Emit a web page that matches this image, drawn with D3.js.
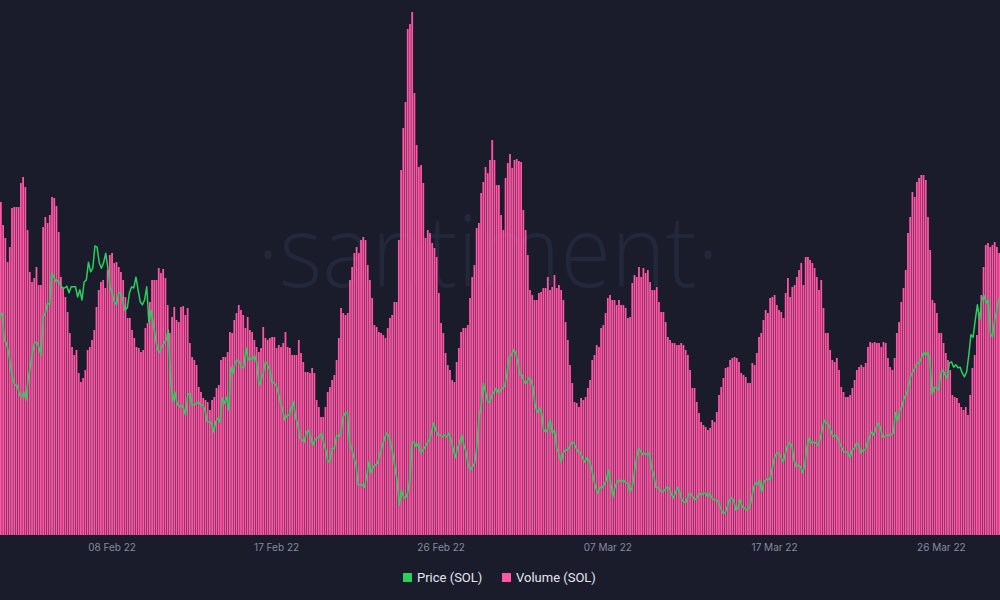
<!DOCTYPE html>
<html>
<head>
<meta charset="utf-8">
<script src="https://cdn.jsdelivr.net/npm/d3@7"></script>
<style>
  html, body { margin: 0; padding: 0; background: #1a1c2c; }
  svg { display: block; }
</style>
</head>
<body>
<svg id="chart" width="1000" height="600"></svg>
<script>
// Volume (SOL, millions) per 3h bar, left to right
const volume = [
  3.33,3.10,2.97,2.73,2.88,3.27,3.28,3.28,3.28,3.52,
  3.58,3.48,3.05,2.63,2.53,2.57,2.68,2.50,2.50,3.08,
  3.18,3.12,3.20,3.38,3.37,3.29,3.03,2.58,2.47,2.38,
  2.23,2.02,1.88,1.80,1.85,1.62,1.53,1.57,1.65,1.85,
  1.88,1.95,2.05,2.28,2.45,2.53,2.55,2.47,2.65,2.80,
  2.82,2.72,2.73,2.68,2.63,2.55,2.38,2.17,2.17,2.05,
  1.97,1.88,1.87,1.83,1.85,2.07,2.12,2.33,2.55,2.55,
  2.55,2.67,2.62,2.66,2.57,2.30,2.02,2.18,2.28,2.15,
  2.13,2.28,2.29,2.20,2.27,1.92,1.78,1.75,1.70,1.48,
  1.43,1.37,1.35,1.33,1.25,1.35,1.38,1.47,1.50,1.75,
  1.78,1.78,1.83,2.03,2.02,2.15,2.22,2.30,2.25,2.20,
  2.07,2.18,2.05,2.03,1.95,1.88,1.83,1.87,2.08,1.97,
  1.95,1.97,1.98,1.98,1.87,1.90,1.88,1.92,2.03,1.88,
  1.87,1.80,1.80,1.80,1.95,1.82,1.73,1.63,1.63,1.62,
  1.67,1.62,1.35,1.28,1.18,1.18,1.28,1.43,1.48,1.55,
  1.60,1.75,1.97,2.27,2.22,2.20,2.22,2.55,2.68,2.82,
  2.88,2.82,2.95,2.98,2.95,2.70,2.55,2.37,2.10,2.08,
  2.03,2.02,2.00,1.97,2.07,2.17,2.20,2.33,2.33,2.95,
  3.65,4.07,4.33,5.06,5.11,5.23,4.42,3.90,3.68,3.70,
  3.52,2.97,3.05,3.02,2.92,2.87,2.78,2.42,2.12,2.02,
  1.82,1.70,1.65,1.55,1.53,1.73,1.87,2.03,2.07,2.07,
  2.10,2.37,2.58,2.70,3.07,3.12,3.42,3.53,3.68,3.62,
  3.75,3.95,3.75,3.50,
  3.50,3.20,3.05,3.57,3.72,3.81,3.67,3.75,3.76,3.74,
  3.73,3.25,3.05,2.80,2.45,2.40,2.35,2.35,2.42,2.43,
  2.47,2.47,2.58,2.45,2.48,2.60,2.47,2.50,2.45,2.35,
  2.13,1.95,1.70,1.52,1.33,1.32,1.28,1.37,1.35,1.38,
  1.47,1.55,1.75,1.80,1.90,1.88,2.07,2.10,2.22,2.37,
  2.40,2.35,2.35,2.30,2.35,2.30,2.30,2.27,2.17,2.18,
  2.52,2.60,2.58,2.68,2.58,2.67,2.62,2.65,2.53,2.45,
  2.45,2.48,2.33,2.23,2.23,2.13,1.98,1.95,1.92,1.92,
  1.90,1.90,1.92,1.90,1.85,1.80,1.65,1.47,1.47,1.33,
  1.22,1.13,1.10,1.08,1.05,1.07,1.15,1.13,1.23,1.40,
  1.48,1.57,1.67,1.68,1.75,1.77,1.78,1.77,1.73,1.62,
  1.60,1.58,1.52,1.52,1.72,1.70,1.82,1.98,2.02,2.15,
  2.25,2.22,2.37,2.38,2.40,2.30,2.25,2.23,2.17,2.42,
  2.57,2.38,2.48,2.50,2.58,2.65,2.72,2.50,2.78,2.78,
  2.75,2.72,2.67,2.58,2.45,2.55,2.27,2.02,2.02,1.85,
  1.75,1.73,1.77,1.65,1.48,1.43,1.38,1.38,1.40,1.47,
  1.55,1.65,1.68,1.70,1.68,1.72,1.88,1.93,1.92,1.93,
  1.92,1.92,1.88,1.93,1.92,1.77,1.68,1.65,1.77,2.02,
  2.13,2.33,2.47,2.65,3.02,3.18,3.43,3.38,3.53,3.57,
  3.60,3.60,3.55,3.18,2.85,2.35,2.32,2.22,2.02,2.02,
  1.92,1.82,1.75,1.65,1.40,1.38,1.37,1.32,1.28,1.25,
  1.28,1.20,1.40,1.67,1.80,2.00,2.22,2.40,2.68,2.90,
  2.92,2.88,2.90,2.93,2.88,2.82
];

// Price (USD) samples, left to right
const price = [
  107.2,107.8,103.3,102.8,101.2,98.8,96.7,95.8,95.8,94.2,
  93.8,94.7,93.3,96.7,98.8,101.2,102.8,103.0,102.2,100.8,
  107.2,107.8,109.5,109.2,114.5,113.8,113.0,113.3,112.5,112.0,
  112.0,112.3,111.2,112.2,112.2,112.2,110.5,111.7,110.0,113.0,
  113.3,116.3,114.7,115.3,119.0,118.8,116.2,115.3,116.2,
  117.8,115.3,112.2,111.2,109.7,109.2,111.2,111.2,109.7,108.3,
  108.7,111.2,112.2,112.0,113.8,111.7,109.7,109.2,110.0,112.2,
  106.3,108.3,106.2,103.8,101.7,101.3,102.2,102.8,103.3,
  105.0,97.2,93.0,94.7,92.8,92.2,92.5,92.0,90.8,
  94.2,94.5,92.5,92.5,92.8,93.0,92.5,92.5,91.7,89.7,
  89.7,89.5,88.0,89.7,90.3,89.7,93.7,92.8,93.8,91.7,
  98.8,97.8,99.7,100.0,99.7,98.7,98.8,102.0,100.0,
  100.3,100.0,100.8,99.5,95.8,96.7,97.8,99.7,99.2,98.3,
  96.3,96.2,95.8,94.5,92.8,91.7,90.0,90.8,90.8,92.0,
  93.0,90.5,89.2,87.0,86.7,86.3,88.0,88.3,87.2,85.8,
  86.7,87.0,87.2,87.8,86.2,85.0,83.0,83.3,85.3,85.3,
  87.5,87.2,87.8,90.5,91.2,91.3,86.3,85.3,83.8,
  82.5,79.2,79.2,79.2,78.8,80.8,83.0,81.2,82.2,82.5,
  82.8,84.2,85.5,86.7,87.8,87.5,86.3,84.5,82.2,80.0,
  75.8,78.3,77.2,77.0,78.0,80.3,86.2,86.3,85.5,
  86.2,84.5,85.0,85.5,86.2,86.7,88.0,89.5,88.3,87.5,
  87.5,87.2,87.5,87.2,87.8,86.7,85.3,83.7,85.3,86.2,
  87.5,85.8,84.7,82.5,81.7,82.2,82.8,85.5,90.5,
  92.2,96.2,94.7,93.0,93.0,94.2,94.7,95.3,94.5,
  95.0,
  95.3,95.8,97.8,100.5,100.8,101.7,101.2,99.5,97.5,97.5,
  96.2,96.2,97.0,96.7,95.5,92.5,91.2,92.0,91.2,88.3,
  88.0,88.7,90.0,87.8,88.3,85.3,84.5,83.0,84.5,85.0,
  85.0,85.5,86.3,86.2,85.3,84.7,84.5,83.7,83.0,83.7,
  83.3,82.2,80.5,78.8,77.8,78.8,78.7,79.2,80.0,81.7,
  79.5,77.2,78.8,79.7,80.0,79.7,80.0,79.5,79.5,78.0,
  78.8,81.2,83.7,85.3,84.7,84.2,84.5,84.2,84.5,82.2,
  80.8,78.8,78.7,78.3,78.0,78.3,78.8,78.7,77.8,77.0,
  77.8,78.8,78.0,76.7,76.3,76.3,77.5,77.8,77.2,76.7,
  77.0,77.8,77.5,77.8,77.8,77.2,77.8,77.0,76.7,76.7,
  76.3,75.3,74.5,74.5,75.5,76.7,77.0,76.7,75.0,75.3,
  76.7,75.5,75.3,75.0,75.3,76.2,78.3,79.5,79.2,80.0,
  78.0,79.7,80.0,80.3,80.0,82.2,83.8,84.5,84.5,83.7,
  83.0,84.5,85.8,86.2,85.8,83.3,82.2,82.5,82.2,81.2,
  82.5,85.5,87.0,86.2,86.3,86.2,85.8,86.7,88.3,90.0,
  89.5,89.2,88.3,87.2,87.5,87.2,86.3,85.5,84.7,84.7,
  84.5,83.7,85.0,85.3,86.2,85.8,84.5,85.0,85.0,86.2,
  87.2,88.0,87.5,88.7,89.5,88.8,87.2,87.2,87.5,87.5,
  87.5,87.8,91.2,90.0,91.7,92.2,93.7,94.2,95.5,97.2,
  98.0,98.7,99.5,99.5,100.3,101.3,100.8,101.3,100.0,94.2,
  95.5,95.3,95.0,97.8,98.3,97.5,97.0,99.5,99.7,98.8,
  99.2,98.7,98.8,97.8,97.2,98.0,100.8,104.2,103.8,106.7,
  109.2,106.7,110.0,110.8,109.5,110.0,104.5,103.8,106.7,108.3,
  110.3
];

// X axis tick labels and the bar each one sits under
const tickLabels = ["08 Feb 22", "17 Feb 22", "26 Feb 22", "07 Mar 22", "17 Mar 22", "26 Mar 22"];
const tickBars = [50, 124, 198, 273, 348, 423];

const seriesNames = ["Price (SOL)", "Volume (SOL)"];
const seriesColors = ["#2bcf5c", "#ff56a6"];

const W = 1000, H = 600;
const plotTop = 0, plotBottom = 535;

const svg = d3.select("#chart");
svg.append("rect").attr("width", W).attr("height", H).attr("fill", "#1a1c2c");

// watermark
svg.append("text")
  .attr("x", 488).attr("y", 287)
  .attr("text-anchor", "middle")
  .attr("font-family", "'Open Sans', sans-serif")
  .attr("font-weight", 300)
  .attr("font-size", 100)
  .attr("textLength", 462)
  .attr("lengthAdjust", "spacingAndGlyphs")
  .attr("fill", "#23273a")
  .text("·santiment·");

const x = d3.scaleBand()
  .domain(d3.range(volume.length))
  .range([0, W])
  .paddingInner(0.2)
  .paddingOuter(0);

const yVol = d3.scaleLinear()
  .domain([0, d3.max(volume) * 1.023])
  .range([plotBottom, plotTop]);

svg.append("g")
  .selectAll("rect")
  .data(volume)
  .join("rect")
  .attr("x", (d, i) => x(i))
  .attr("width", x.bandwidth())
  .attr("y", d => yVol(d))
  .attr("height", d => plotBottom - yVol(d))
  .attr("fill", seriesColors[1]);

const xPrice = d3.scaleLinear()
  .domain([0, price.length - 1])
  .range([0, W - 1]);

const yPrice = d3.scaleLinear()
  .domain([70, 130])
  .range([540, 180]);

svg.append("path")
  .datum(price)
  .attr("fill", "none")
  .attr("stroke", seriesColors[0])
  .attr("stroke-width", 1.5)
  .attr("stroke-linejoin", "round")
  .attr("d", d3.line().x((d, i) => xPrice(i)).y(d => yPrice(d)));

// x axis
const xAxis = d3.axisBottom(x)
  .tickValues(tickBars)
  .tickFormat((d, i) => tickLabels[i])
  .tickSize(0)
  .tickPadding(9);

const gx = svg.append("g")
  .attr("transform", `translate(0,${plotBottom})`)
  .call(xAxis);
gx.select(".domain").remove();
gx.selectAll("text")
  .attr("font-family", "Inter, Roboto, sans-serif")
  .attr("font-size", 10)
  .attr("fill", "#858a9d");

// legend
const legendX = [403, 502];
const legend = svg.append("g");
seriesNames.forEach((name, i) => {
  legend.append("rect")
    .attr("x", legendX[i]).attr("y", 573)
    .attr("width", 9).attr("height", 9)
    .attr("fill", seriesColors[i]);
  legend.append("text")
    .attr("x", legendX[i] + 14).attr("y", 582)
    .attr("font-family", "Roboto, sans-serif")
    .attr("font-size", 13)
    .attr("fill", "#e4e6ee")
    .text(name);
});
</script>
</body>
</html>
